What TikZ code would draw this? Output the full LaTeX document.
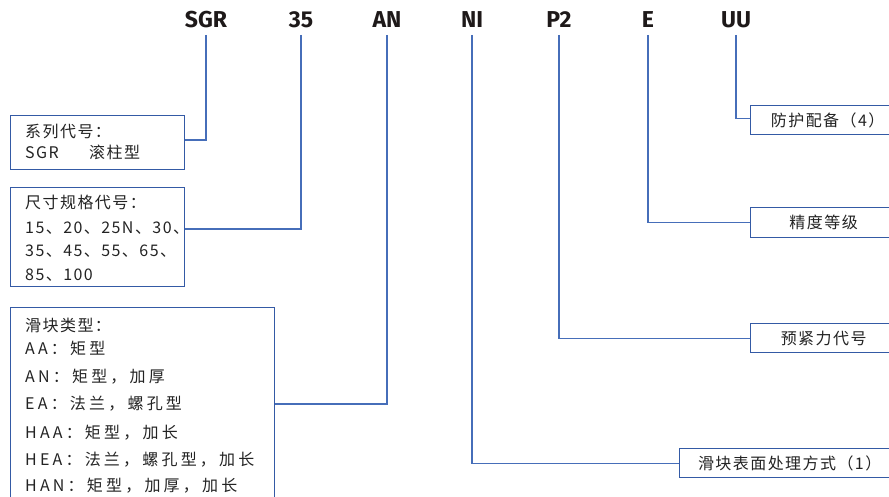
\documentclass[tikz,border=0pt]{standalone}
\usepackage{fontspec}
\setmainfont{Noto Sans CJK SC}
\newfontfamily\cjk{Noto Sans CJK SC}[LetterSpace=9]
\newfontfamily\cjkw{Noto Sans CJK SC}[LetterSpace=20]
\newfontfamily\topfont{Fira Sans}
\definecolor{boxc}{RGB}{52,90,165}
\definecolor{linec}{RGB}{70,110,185}
\definecolor{textc}{RGB}{35,35,35}
\definecolor{labelc}{RGB}{30,25,25}
\begin{document}
\begin{tikzpicture}[x=1pt,y=-1pt,
  lbl/.style={font=\fontsize{23}{25}\selectfont\topfont\bfseries, text=labelc, inner sep=0pt, anchor=base},
  bx/.style={draw=boxc, line width=1.3pt, rectangle, inner sep=0pt, anchor=north west},
  txt/.style={font=\fontsize{16}{19}\selectfont\cjk, text=textc, inner sep=0pt, anchor=base west},
  txtw/.style={font=\fontsize{16}{19}\selectfont\cjkw, text=textc, inner sep=0pt, anchor=base west},
  rtxt/.style={font=\fontsize{16}{19}\selectfont\cjk, text=textc},
  conn/.style={draw=linec, line width=1.2pt}
]
\useasboundingbox (0,0) rectangle (889,497);
\clip (0,0) rectangle (889,497);

% top code labels
\node[lbl] (tSGR) at (206,28) {SGR};
\node[lbl] (t35) at (301,28) {35};
\node[lbl] (tAN) at (387,28) {AN};
\node[lbl] (tNI) at (472,28) {NI};
\node[lbl] (tP2) at (559,28) {P2};
\node[lbl] (tE) at (648,28) {E};
\node[lbl] (tUU) at (736,28) {UU};

% left boxes
\node[bx, minimum width=174pt, minimum height=54pt] (b1) at (10,115) {};
\node[txt] (b1a) at (25,138) {系列代号：};
\node[txt] (b1b) at (25,159) {\makebox[64pt][l]{SGR}滚柱型};

\node[bx, minimum width=174pt, minimum height=99pt] (b2) at (10,187) {};
\node[txt] (b2a) at (25,209) {尺寸规格代号：};
\node[txt] (b2b) at (25,234) {15、20、25N、30、};
\node[txt] (b2c) at (25,257) {35、45、55、65、};
\node[txt] (b2d) at (25,280) {85、100};

\node[bx, minimum width=264pt, minimum height=210pt] (b3) at (10,307) {};
\node[txt] (b3a) at (25,331) {滑块类型：};
\node[txtw] (b3b) at (25,354) {AA：矩型};
\node[txtw] (b3c) at (25,382) {AN：矩型，加厚};
\node[txtw] (b3d) at (25,409) {EA：法兰，螺孔型};
\node[txtw] (b3e) at (25,438) {HAA：矩型，加长};
\node[txtw] (b3f) at (25,465) {HEA：法兰，螺孔型，加长};
\node[txtw] (b3g) at (25,491) {HAN：矩型，加厚，加长};

% right boxes
\node[bx, minimum width=146pt, minimum height=29pt] (r1) at (750,105) {};
\node[rtxt] (r1t) at ([xshift=4pt]r1.center) {防护配备（4）};
\node[bx, minimum width=146pt, minimum height=30pt] (r2) at (750,207) {};
\node[rtxt] (r2t) at (r2.center) {精度等级};
\node[bx, minimum width=146pt, minimum height=29pt] (r3) at (750,323) {};
\node[rtxt] (r3t) at (r3.center) {预紧力代号};
\node[bx, minimum width=220pt, minimum height=29pt] (r4) at (679,448) {};
\node[rtxt] (r4t) at (r4.center) {滑块表面处理方式（1）};

% connectors
\draw[conn] ([yshift=-7pt]tSGR.base) |- ([yshift=-25pt]b1.north east);
\draw[conn] ([yshift=-7pt]t35.base) |- ([yshift=-42pt]b2.north east);
\draw[conn] ([yshift=-7pt]tAN.base) |- ([yshift=-97pt]b3.north east);
\draw[conn] ([yshift=-7pt]tNI.base) |- (r4.west);
\draw[conn] ([yshift=-7pt]tP2.base) |- (r3.west);
\draw[conn] ([yshift=-7pt]tE.base) |- (r2.west);
\draw[conn] ([yshift=-7pt]tUU.base) |- ([yshift=1.5pt]r1.west);
\end{tikzpicture}
\end{document}
